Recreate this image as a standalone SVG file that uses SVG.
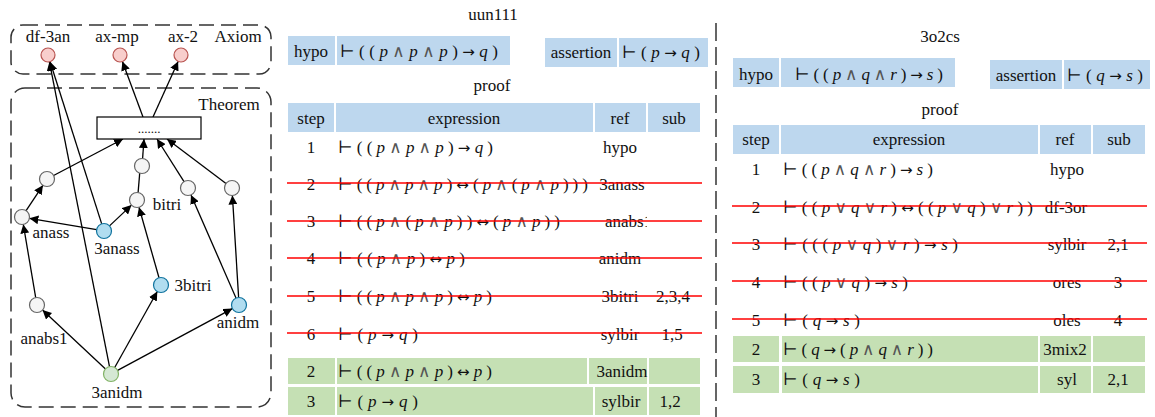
<svg xmlns="http://www.w3.org/2000/svg" width="1155" height="417" viewBox="0 0 1155 417">
  <defs>
    <style>
      text { font-family: "Liberation Serif", "DejaVu Serif", serif; font-size: 17px; fill: #111; }
      .c { text-anchor: middle; }
      .v { font-style: italic; }
      .op { font-family: "DejaVu Sans", sans-serif; font-size: 15px; }
      .lo { font-family: "DejaVu Sans", sans-serif; font-size: 17px; fill: #555; }
      .group { fill: none; stroke: #333; stroke-width: 1.5; stroke-dasharray: 15 7; }
      .edge { stroke: #000; stroke-width: 1.3; fill: none; marker-end: url(#arrow); }
      .ax { fill: #f8cecc; stroke: #b85450; stroke-width: 1.2; }
      .th { fill: #f5f5f5; stroke: #666; stroke-width: 1.2; }
      .hi { fill: #b1ddf0; stroke: #10739e; stroke-width: 1.2; }
      .root { fill: #d5e8d4; stroke: #82b366; stroke-width: 1.2; }
      .blue { fill: #bdd7ee; }
      .green { fill: #c5e0b4; }
      .strike { stroke: #ff0000; stroke-width: 1.5; }
      .sep { stroke: #333; stroke-width: 1.5; stroke-dasharray: 18 6; }
    </style>
    <marker id="arrow" viewBox="0 0 10 10" refX="10" refY="5" markerWidth="9" markerHeight="9" markerUnits="userSpaceOnUse" orient="auto">
      <path d="M0,0 L10,5 L0,10 z" fill="#000"/>
    </marker>
    <clipPath id="refcol1">
      <rect x="595" y="200" width="52" height="40"/>
    </clipPath>
  </defs>

  <!-- ===== dependency graph ===== -->
  <g id="axiom-group">
    <rect class="group" x="11" y="25" width="260" height="49" rx="12"/>
    <text class="c" x="238" y="42">Axiom</text>
  </g>
  <g id="theorem-group">
    <rect class="group" x="11" y="88" width="260" height="319" rx="14"/>
    <text class="c" x="229" y="110">Theorem</text>
  </g>

  <g id="connectors">
    <line class="edge" x1="26.1" y1="210.7" x2="42.9" y2="185.3"/>
    <line class="edge" x1="53.6" y1="175.5" x2="123" y2="139"/>
    <line class="edge" x1="142.6" y1="158.5" x2="144" y2="139"/>
    <line class="edge" x1="138.1" y1="192.6" x2="140.9" y2="158.6"/>
    <line class="edge" x1="184" y1="181.7" x2="157" y2="139"/>
    <line class="edge" x1="226" y1="183.5" x2="167" y2="139"/>
    <line class="edge" x1="96.6" y1="229.7" x2="29.4" y2="218.3"/>
    <line class="edge" x1="109.5" y1="225.9" x2="131.5" y2="205.1"/>
    <line class="edge" x1="101.7" y1="223.9" x2="50.1" y2="61.7"/>
    <line class="edge" x1="143" y1="117" x2="122.4" y2="61.6"/>
    <line class="edge" x1="153" y1="117" x2="178.1" y2="61.4"/>
    <line class="edge" x1="159" y1="277.8" x2="139" y2="207.2"/>
    <line class="edge" x1="236" y1="298.1" x2="191" y2="194.9"/>
    <line class="edge" x1="238.6" y1="297.5" x2="232.4" y2="195.5"/>
    <line class="edge" x1="105.5" y1="368.9" x2="42.5" y2="310.1"/>
    <line class="edge" x1="114.7" y1="367.5" x2="157.3" y2="291.5"/>
    <line class="edge" x1="117.6" y1="370.4" x2="232.4" y2="308.6"/>
    <line class="edge" x1="109.5" y1="366.6" x2="49.4" y2="61.9"/>
    <line class="edge" x1="35.7" y1="297.6" x2="23.3" y2="224.4"/>
  </g>

  <g id="node-df-3an">
    <circle class="ax" cx="48" cy="55" r="7"/>
    <text class="c" x="48" y="42">df-3an</text>
  </g>
  <g id="node-ax-mp">
    <circle class="ax" cx="120" cy="55" r="7"/>
    <text class="c" x="117" y="42">ax-mp</text>
  </g>
  <g id="node-ax-2">
    <circle class="ax" cx="181" cy="55" r="7"/>
    <text class="c" x="183" y="42">ax-2</text>
  </g>
  <g id="node-more">
    <rect x="97" y="117" width="104" height="22" fill="#fff" stroke="#000" stroke-width="1.2"/>
    <text class="c" x="149" y="133" style="font-size:13px">.......</text>
  </g>
  <g id="node-g1"><circle class="th" cx="47" cy="179" r="7.5"/></g>
  <g id="node-g2"><circle class="th" cx="142" cy="166" r="7.5"/></g>
  <g id="node-g3"><circle class="th" cx="188" cy="188" r="7.5"/></g>
  <g id="node-g4"><circle class="th" cx="232" cy="188" r="7.5"/></g>
  <g id="node-bitri">
    <circle class="th" cx="137" cy="200" r="7.5"/>
    <text class="c" x="167" y="210">bitri</text>
  </g>
  <g id="node-anass">
    <circle class="th" cx="22" cy="217" r="7.5"/>
    <text class="c" x="51" y="238">anass</text>
  </g>
  <g id="node-3anass">
    <circle class="hi" cx="104" cy="231" r="7.5"/>
    <text class="c" x="117" y="254">3anass</text>
  </g>
  <g id="node-3bitri">
    <circle class="hi" cx="161" cy="285" r="7.5"/>
    <text class="c" x="193" y="291">3bitri</text>
  </g>
  <g id="node-anabs1">
    <circle class="th" cx="37" cy="305" r="7.5"/>
    <text class="c" x="44" y="344">anabs1</text>
  </g>
  <g id="node-anidm">
    <circle class="hi" cx="239" cy="305" r="7.5"/>
    <text class="c" x="238" y="328">anidm</text>
  </g>
  <g id="node-3anidm">
    <circle class="root" cx="111" cy="374" r="7.5"/>
    <text class="c" x="117" y="398">3anidm</text>
  </g>

  <!-- ===== proof of uun111 ===== -->
  <g id="proof-uun111">
    <text class="c" x="493" y="20">uun111</text>
    <rect class="blue" x="288" y="36" width="47" height="29"/>
    <rect class="blue" x="337" y="36" width="173" height="29"/>
    <text class="c" x="311" y="57">hypo</text>
    <text x="340" y="57" textLength="158" lengthAdjust="spacing">⊢ ( ( <tspan class="v">p</tspan> <tspan class="lo">∧</tspan> <tspan class="v">p</tspan> <tspan class="lo">∧</tspan> <tspan class="v">p</tspan> ) <tspan class="op">→</tspan> <tspan class="v">q</tspan> )</text>
    <rect class="blue" x="545" y="38" width="72" height="29"/>
    <rect class="blue" x="619" y="38" width="89" height="29"/>
    <text class="c" x="581" y="58">assertion</text>
    <text x="622" y="58" textLength="78" lengthAdjust="spacing">⊢ ( <tspan class="v">p</tspan> <tspan class="op">→</tspan> <tspan class="v">q</tspan> )</text>

    <text class="c" x="492" y="91">proof</text>
    <rect class="blue" x="288" y="103" width="46" height="29"/>
    <rect class="blue" x="336" y="103" width="257" height="29"/>
    <rect class="blue" x="595" y="103" width="51" height="29"/>
    <rect class="blue" x="648" y="103" width="52" height="29"/>
    <text class="c" x="311" y="124">step</text>
    <text class="c" x="464" y="124">expression</text>
    <text class="c" x="620" y="124">ref</text>
    <text class="c" x="674" y="124">sub</text>

    <text class="c" x="311" y="153">1</text>
    <text x="338" y="153" textLength="155" lengthAdjust="spacing">⊢ ( ( <tspan class="v">p</tspan> <tspan class="lo">∧</tspan> <tspan class="v">p</tspan> <tspan class="lo">∧</tspan> <tspan class="v">p</tspan> ) <tspan class="op">→</tspan> <tspan class="v">q</tspan> )</text>
    <text class="c" x="620" y="153">hypo</text>

    <text class="c" x="311" y="190">2</text>
    <text x="338" y="190" textLength="250" lengthAdjust="spacing">⊢ ( ( <tspan class="v">p</tspan> <tspan class="lo">∧</tspan> <tspan class="v">p</tspan> <tspan class="lo">∧</tspan> <tspan class="v">p</tspan> ) <tspan class="op">↔</tspan> ( <tspan class="v">p</tspan> <tspan class="lo">∧</tspan> ( <tspan class="v">p</tspan> <tspan class="lo">∧</tspan> <tspan class="v">p</tspan> ) ) )</text>
    <text class="c" x="622" y="190">3anass</text>

    <text class="c" x="311" y="227">3</text>
    <text x="338" y="227" textLength="222" lengthAdjust="spacing">⊢ ( ( <tspan class="v">p</tspan> <tspan class="lo">∧</tspan> ( <tspan class="v">p</tspan> <tspan class="lo">∧</tspan> <tspan class="v">p</tspan> ) ) <tspan class="op">↔</tspan> ( <tspan class="v">p</tspan> <tspan class="lo">∧</tspan> <tspan class="v">p</tspan> ) )</text>
    <text x="605" y="227" clip-path="url(#refcol1)">anabs1</text>

    <text class="c" x="311" y="264">4</text>
    <text x="338" y="264" textLength="127" lengthAdjust="spacing">⊢ ( ( <tspan class="v">p</tspan> <tspan class="lo">∧</tspan> <tspan class="v">p</tspan> ) <tspan class="op">↔</tspan> <tspan class="v">p</tspan> )</text>
    <text class="c" x="620" y="264">anidm</text>

    <text class="c" x="311" y="302">5</text>
    <text x="338" y="302" textLength="154" lengthAdjust="spacing">⊢ ( ( <tspan class="v">p</tspan> <tspan class="lo">∧</tspan> <tspan class="v">p</tspan> <tspan class="lo">∧</tspan> <tspan class="v">p</tspan> ) <tspan class="op">↔</tspan> <tspan class="v">p</tspan> )</text>
    <text class="c" x="620" y="302">3bitri</text>
    <text class="c" x="673" y="302">2,3,4</text>

    <text class="c" x="311" y="340">6</text>
    <text x="338" y="340" textLength="80" lengthAdjust="spacing">⊢ ( <tspan class="v">p</tspan> <tspan class="op">→</tspan> <tspan class="v">q</tspan> )</text>
    <text class="c" x="620" y="340">sylbir</text>
    <text class="c" x="672" y="340">1,5</text>

    <line class="strike" x1="287" y1="183" x2="702" y2="183"/>
    <line class="strike" x1="287" y1="221" x2="702" y2="221"/>
    <line class="strike" x1="287" y1="258" x2="702" y2="258"/>
    <line class="strike" x1="287" y1="296" x2="702" y2="296"/>
    <line class="strike" x1="287" y1="333" x2="702" y2="333"/>

    <rect class="green" x="288" y="358" width="47" height="26"/>
    <rect class="green" x="337" y="358" width="250" height="26"/>
    <rect class="green" x="589" y="358" width="58" height="26"/>
    <rect class="green" x="649" y="358" width="51" height="26"/>
    <text class="c" x="311" y="377">2</text>
    <text x="338" y="377" textLength="154" lengthAdjust="spacing">⊢ ( ( <tspan class="v">p</tspan> <tspan class="lo">∧</tspan> <tspan class="v">p</tspan> <tspan class="lo">∧</tspan> <tspan class="v">p</tspan> ) <tspan class="op">↔</tspan> <tspan class="v">p</tspan> )</text>
    <text class="c" x="622" y="377">3anidm</text>

    <rect class="green" x="288" y="387" width="47" height="28"/>
    <rect class="green" x="337" y="387" width="256" height="28"/>
    <rect class="green" x="595" y="387" width="52" height="28"/>
    <rect class="green" x="649" y="387" width="51" height="28"/>
    <text class="c" x="311" y="407">3</text>
    <text x="338" y="407" textLength="80" lengthAdjust="spacing">⊢ ( <tspan class="v">p</tspan> <tspan class="op">→</tspan> <tspan class="v">q</tspan> )</text>
    <text class="c" x="621" y="407">sylbir</text>
    <text class="c" x="670" y="407">1,2</text>
  </g>

  <line id="separator" class="sep" x1="716" y1="23" x2="716" y2="417"/>

  <!-- ===== proof of 3o2cs ===== -->
  <g id="proof-3o2cs">
    <text class="c" x="940" y="42">3o2cs</text>
    <rect class="blue" x="733" y="58" width="46" height="29"/>
    <rect class="blue" x="781" y="58" width="174" height="29"/>
    <text class="c" x="756" y="80">hypo</text>
    <text x="795" y="80" textLength="148" lengthAdjust="spacing">⊢ ( ( <tspan class="v">p</tspan> <tspan class="lo">∧</tspan> <tspan class="v">q</tspan> <tspan class="lo">∧</tspan> <tspan class="v">r</tspan> ) <tspan class="op">→</tspan> <tspan class="v">s</tspan> )</text>
    <rect class="blue" x="990" y="60" width="72" height="29"/>
    <rect class="blue" x="1064" y="60" width="86" height="29"/>
    <text class="c" x="1026" y="81">assertion</text>
    <text x="1067" y="81" textLength="76" lengthAdjust="spacing">⊢ ( <tspan class="v">q</tspan> <tspan class="op">→</tspan> <tspan class="v">s</tspan> )</text>

    <text class="c" x="940" y="115">proof</text>
    <rect class="blue" x="733" y="125" width="46" height="29"/>
    <rect class="blue" x="781" y="125" width="257" height="29"/>
    <rect class="blue" x="1040" y="125" width="51" height="29"/>
    <rect class="blue" x="1093" y="125" width="52" height="29"/>
    <text class="c" x="756" y="145">step</text>
    <text class="c" x="909" y="145">expression</text>
    <text class="c" x="1065" y="145">ref</text>
    <text class="c" x="1119" y="145">sub</text>

    <text class="c" x="756" y="175">1</text>
    <text x="783" y="175" textLength="150" lengthAdjust="spacing">⊢ ( ( <tspan class="v">p</tspan> <tspan class="lo">∧</tspan> <tspan class="v">q</tspan> <tspan class="lo">∧</tspan> <tspan class="v">r</tspan> ) <tspan class="op">→</tspan> <tspan class="v">s</tspan> )</text>
    <text class="c" x="1067" y="175">hypo</text>

    <text class="c" x="756" y="213">2</text>
    <text x="783" y="213" textLength="250" lengthAdjust="spacing">⊢ ( ( <tspan class="v">p</tspan> <tspan class="lo">∨</tspan> <tspan class="v">q</tspan> <tspan class="lo">∨</tspan> <tspan class="v">r</tspan> ) <tspan class="op">↔</tspan> ( ( <tspan class="v">p</tspan> <tspan class="lo">∨</tspan> <tspan class="v">q</tspan> ) <tspan class="lo">∨</tspan> <tspan class="v">r</tspan> ) )</text>
    <text class="c" x="1066" y="213">df-3or</text>

    <text class="c" x="756" y="250">3</text>
    <text x="783" y="250" textLength="175" lengthAdjust="spacing">⊢ ( ( ( <tspan class="v">p</tspan> <tspan class="lo">∨</tspan> <tspan class="v">q</tspan> ) <tspan class="lo">∨</tspan> <tspan class="v">r</tspan> ) <tspan class="op">→</tspan> <tspan class="v">s</tspan> )</text>
    <text class="c" x="1067" y="250">sylbir</text>
    <text class="c" x="1118" y="250">2,1</text>

    <text class="c" x="756" y="288">4</text>
    <text x="783" y="288" textLength="125" lengthAdjust="spacing">⊢ ( ( <tspan class="v">p</tspan> <tspan class="lo">∨</tspan> <tspan class="v">q</tspan> ) <tspan class="op">→</tspan> <tspan class="v">s</tspan> )</text>
    <text class="c" x="1067" y="288">ores</text>
    <text class="c" x="1118" y="288">3</text>

    <text class="c" x="756" y="326">5</text>
    <text x="783" y="326" textLength="77" lengthAdjust="spacing">⊢ ( <tspan class="v">q</tspan> <tspan class="op">→</tspan> <tspan class="v">s</tspan> )</text>
    <text class="c" x="1067" y="326">oles</text>
    <text class="c" x="1118" y="326">4</text>

    <line class="strike" x1="732" y1="206" x2="1147" y2="206"/>
    <line class="strike" x1="732" y1="243" x2="1147" y2="243"/>
    <line class="strike" x1="732" y1="281" x2="1147" y2="281"/>
    <line class="strike" x1="732" y1="319" x2="1147" y2="319"/>

    <rect class="green" x="733" y="336" width="46" height="26"/>
    <rect class="green" x="782" y="336" width="256" height="26"/>
    <rect class="green" x="1040" y="336" width="51" height="26"/>
    <rect class="green" x="1093" y="336" width="52" height="26"/>
    <text class="c" x="756" y="355">2</text>
    <text x="783" y="355" textLength="150" lengthAdjust="spacing">⊢ ( <tspan class="v">q</tspan> <tspan class="op">→</tspan> ( <tspan class="v">p</tspan> <tspan class="lo">∧</tspan> <tspan class="v">q</tspan> <tspan class="lo">∧</tspan> <tspan class="v">r</tspan> ) )</text>
    <text class="c" x="1065" y="355">3mix2</text>

    <rect class="green" x="733" y="366" width="46" height="27"/>
    <rect class="green" x="782" y="366" width="256" height="27"/>
    <rect class="green" x="1040" y="366" width="51" height="27"/>
    <rect class="green" x="1093" y="366" width="52" height="27"/>
    <text class="c" x="756" y="385">3</text>
    <text x="783" y="385" textLength="77" lengthAdjust="spacing">⊢ ( <tspan class="v">q</tspan> <tspan class="op">→</tspan> <tspan class="v">s</tspan> )</text>
    <text class="c" x="1067" y="385">syl</text>
    <text class="c" x="1118" y="385">2,1</text>
  </g>
</svg>
